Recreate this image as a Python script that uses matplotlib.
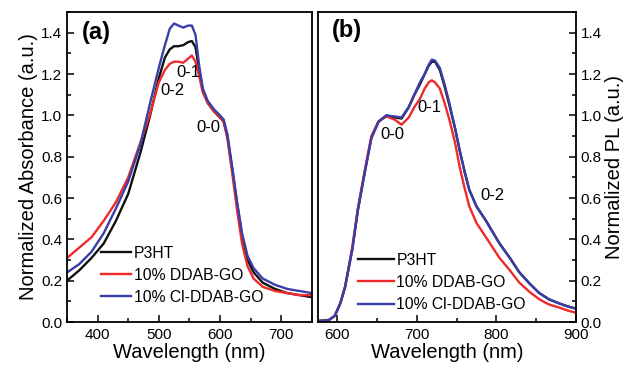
import matplotlib
matplotlib.use("Agg")
import matplotlib.pyplot as plt
from matplotlib.ticker import MultipleLocator

plt.rcParams['font.family'] = ['Liberation Sans', 'DejaVu Sans']

# (a) absorbance
wl_abs = [350, 370, 390, 410, 430, 450, 470, 485, 500, 510, 518, 525, 532, 540, 548, 554,
          560, 566, 572, 580, 590, 600, 606, 612, 620, 628, 636, 645, 655, 670, 690, 710, 730, 750]
abs_p3ht = [0.20, 0.25, 0.31, 0.38, 0.49, 0.62, 0.82, 0.99, 1.18, 1.28, 1.32, 1.335, 1.335, 1.34, 1.355, 1.36,
            1.33, 1.22, 1.12, 1.06, 1.02, 0.99, 0.97, 0.90, 0.74, 0.57, 0.42, 0.30, 0.24, 0.19, 0.16, 0.14, 0.13, 0.12]
abs_ddab = [0.31, 0.36, 0.41, 0.49, 0.58, 0.70, 0.87, 1.00, 1.16, 1.22, 1.25, 1.26, 1.26, 1.255, 1.275, 1.29,
            1.26, 1.19, 1.11, 1.06, 1.02, 0.99, 0.97, 0.89, 0.72, 0.54, 0.38, 0.27, 0.21, 0.17, 0.15, 0.14, 0.13, 0.13]
abs_cl = [0.24, 0.28, 0.34, 0.43, 0.55, 0.68, 0.86, 1.05, 1.23, 1.34, 1.42, 1.445, 1.435, 1.425, 1.435, 1.435,
          1.39, 1.24, 1.13, 1.07, 1.03, 1.00, 0.98, 0.91, 0.75, 0.58, 0.43, 0.32, 0.26, 0.21, 0.18, 0.16, 0.15, 0.14]

# (b) photoluminescence
wl_pl = [577, 590, 597, 604, 610, 619, 626, 635, 643, 652, 662, 672, 681, 690, 697, 704, 710, 715, 719,
         723, 729, 735, 741, 748, 754, 760, 766, 775, 787, 804, 817, 829, 842, 854, 866, 879, 890, 900]
pl_p3ht = [0.005, 0.01, 0.03, 0.09, 0.17, 0.35, 0.54, 0.73, 0.89, 0.97, 1.00, 0.99, 0.985, 1.04, 1.10, 1.15, 1.20, 1.24, 1.26,
           1.26, 1.22, 1.14, 1.05, 0.94, 0.83, 0.73, 0.64, 0.56, 0.49, 0.38, 0.31, 0.24, 0.185, 0.14, 0.11, 0.09, 0.075, 0.065]
pl_ddab = [0.005, 0.01, 0.03, 0.09, 0.17, 0.36, 0.55, 0.74, 0.90, 0.97, 0.995, 0.98, 0.955, 0.99, 1.04, 1.08, 1.13, 1.16, 1.17,
           1.16, 1.13, 1.06, 0.98, 0.87, 0.75, 0.65, 0.56, 0.48, 0.41, 0.31, 0.25, 0.19, 0.145, 0.11, 0.085, 0.07, 0.055, 0.045]
pl_cl = [0.005, 0.01, 0.03, 0.09, 0.17, 0.35, 0.54, 0.73, 0.89, 0.97, 1.00, 0.995, 0.99, 1.04, 1.10, 1.16, 1.20, 1.245, 1.27,
         1.265, 1.23, 1.15, 1.06, 0.94, 0.83, 0.73, 0.64, 0.56, 0.49, 0.38, 0.31, 0.24, 0.185, 0.14, 0.11, 0.09, 0.075, 0.065]

labels = ['P3HT', '10% DDAB-GO', '10% Cl-DDAB-GO']
colors = ['#111111', '#ee2a2a', '#3a3ea8']

fig = plt.figure(figsize=(6.35, 3.67), dpi=100)
ax1 = fig.add_axes([0.1055, 0.1226, 0.3855, 0.8444])
ax2 = fig.add_axes([0.5008, 0.1226, 0.4062, 0.8444])

for y, lab, c in zip([abs_p3ht, abs_ddab, abs_cl], labels, colors):
    ax1.plot(wl_abs, y, color=c, lw=1.7, label=lab)
for y, lab, c in zip([pl_p3ht, pl_ddab, pl_cl], labels, colors):
    ax2.plot(wl_pl, y, color=c, lw=1.7, label=lab)

ax1.set_xlim(350, 750)
ax2.set_xlim(576, 900)
for ax in (ax1, ax2):
    ax.set_ylim(0, 1.5)
    ax.yaxis.set_major_locator(MultipleLocator(0.2))
    ax.yaxis.set_minor_locator(MultipleLocator(0.1))
    ax.xaxis.set_major_locator(MultipleLocator(100))
    ax.xaxis.set_minor_locator(MultipleLocator(50))
    ax.tick_params(which='both', direction='in', labelsize=11, width=1.1)
    ax.tick_params(which='major', length=5)
    ax.tick_params(which='minor', length=3)
    ax.tick_params(axis='x', pad=4.5)
    for s in ax.spines.values():
        s.set_linewidth(1.3)
    ax.set_xlabel('Wavelength (nm)', fontsize=14.5, labelpad=0.5)

ax1.legend(loc='lower left', frameon=False, fontsize=11.3, handlelength=1.9,
           handletextpad=0.15, labelspacing=0.45, borderaxespad=0,
           bbox_to_anchor=(0.115, 0.035))
ax2.legend(loc='lower left', frameon=False, fontsize=11.3, handlelength=2.3,
           handletextpad=0.15, labelspacing=0.45, borderaxespad=0,
           bbox_to_anchor=(0.13, 0.012))

ax1.set_ylabel('Normalized Absorbance (a.u.)', fontsize=14.5, labelpad=2)
ax2.yaxis.tick_right()
ax2.yaxis.set_label_position('right')
ax2.set_ylabel('Normalized PL (a.u.)', fontsize=14.5, labelpad=2)
ax2.tick_params(axis='y', which='both', left=False, right=True)

ax1.text(398, 1.40, '(a)', fontsize=17, fontweight='bold', ha='center', va='center')
ax1.text(548, 1.21, '0-1', fontsize=12, ha='center', va='center')
ax1.text(523, 1.12, '0-2', fontsize=12, ha='center', va='center')
ax1.text(581, 0.94, '0-0', fontsize=12, ha='center', va='center')

ax2.text(612, 1.41, '(b)', fontsize=17, fontweight='bold', ha='center', va='center')
ax2.text(669, 0.91, '0-0', fontsize=12, ha='center', va='center')
ax2.text(716, 1.04, '0-1', fontsize=12, ha='center', va='center')
ax2.text(795, 0.61, '0-2', fontsize=12, ha='center', va='center')

fig.savefig('out.png', dpi=100)
